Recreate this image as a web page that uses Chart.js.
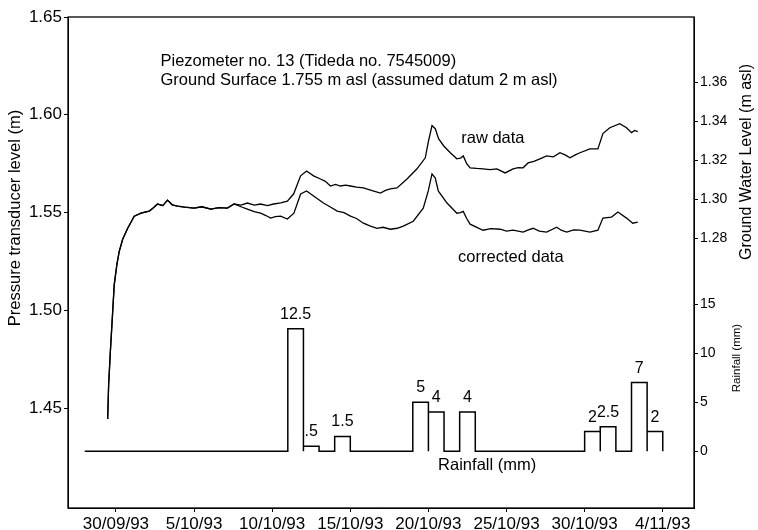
<!DOCTYPE html>
<html>
<head>
<meta charset="utf-8">
<script src="https://cdn.jsdelivr.net/npm/chart.js@4.4.0/dist/chart.umd.min.js"></script>
<style>
    html, body { margin: 0; padding: 0; background: #fff; }
    #wrap { width: 758px; height: 530px; }
</style>
</head>
<body>
<div id="wrap"><canvas id="piezoChart" width="758" height="530"></canvas></div>
<script>
// x values are days counted from 30/09/93
const tickDays = [0, 5, 10, 15, 20, 25, 30, 35];
const tickLabels = ['30/09/93', '5/10/93', '10/10/93', '15/10/93', '20/10/93', '25/10/93', '30/10/93', '4/11/93'];

const levelTicks = [1.45, 1.50, 1.55, 1.60, 1.65];
const gwlTicks = [1.28, 1.30, 1.32, 1.34, 1.36];
const rainTicks = [0, 5, 10, 15];

// pressure transducer level (m)
const rawDays = [-0.53, -0.47, -0.36, -0.21, -0.11, 0.06, 0.21, 0.43, 0.75, 1.17, 1.6, 2.13, 2.4, 2.66, 3.0, 3.3, 3.6, 3.94, 4.4, 5.0, 5.5, 6.07, 6.6, 7.13, 7.56,
    8.0, 8.41, 8.85, 9.26, 9.7, 10.09, 10.55, 10.97, 11.37, 11.82, 12.2, 12.65, 13.09, 13.4, 13.73, 14.05, 14.37, 14.7, 15.01, 15.4, 15.84, 16.4, 16.93, 17.25, 17.56, 17.99,
    18.63, 19.27, 19.8, 20.01, 20.23, 20.44, 20.65, 20.97, 21.4, 21.82, 22.05, 22.23, 22.45, 22.67, 23.1, 23.5, 23.95, 24.38, 24.91, 25.42, 25.75, 26.06, 26.38, 26.75,
    27.14, 27.57, 28.0, 28.42, 28.75, 29.06, 29.4, 29.7, 30.34, 30.85, 31.17, 31.61, 32.25, 32.68, 33.0, 33.2, 33.4];
const rawLevel = [1.4445, 1.4618, 1.4788, 1.4994, 1.5132, 1.5235, 1.5302, 1.5364, 1.542, 1.5482, 1.5497, 1.5508, 1.5525, 1.5544, 1.5536, 1.5564, 1.554, 1.5533, 1.5528, 1.5523, 1.553, 1.5518, 1.5526, 1.5523, 1.5544,
    1.5538, 1.5549, 1.5538, 1.5544, 1.5536, 1.5544, 1.555, 1.5559, 1.5595, 1.5688, 1.5713, 1.5688, 1.5672, 1.566, 1.5636, 1.5644, 1.5636, 1.564, 1.5636, 1.563, 1.5626, 1.5612, 1.56, 1.5614, 1.5621, 1.5626,
    1.5672, 1.5724, 1.578, 1.5868, 1.5945, 1.5929, 1.5878, 1.5842, 1.5806, 1.5775, 1.5778, 1.579, 1.575, 1.5729, 1.5726, 1.5724, 1.572, 1.5724, 1.5703, 1.5724, 1.573, 1.5729, 1.5754, 1.5762,
    1.5775, 1.579, 1.5785, 1.5806, 1.5795, 1.578, 1.5795, 1.5806, 1.5826, 1.5826, 1.5904, 1.5934, 1.5955, 1.5934, 1.5909, 1.592, 1.5914];

const corrDays = [-0.53, -0.47, -0.36, -0.21, -0.11, 0.06, 0.21, 0.43, 0.75, 1.17, 1.6, 2.13, 2.4, 2.66, 3.0, 3.3, 3.6, 3.94, 4.4, 5.0, 5.5, 6.07, 6.6, 7.13, 7.56,
    8.0, 8.41, 8.85, 9.26, 9.6, 9.9, 10.2, 10.54, 10.97, 11.39, 11.82, 12.2, 12.65, 13.28, 13.7, 14.16, 14.6, 15.01, 15.4, 15.84, 16.25, 16.71, 17.1, 17.56, 18.0, 18.39,
    19.03, 19.67, 19.99, 20.23, 20.44, 20.63, 21.19, 21.82, 22.05, 22.23, 22.45, 22.67, 23.1, 23.5, 24.0, 24.59, 25.0, 25.42, 26.06, 26.4, 26.7, 27.1, 27.57,
    28.21, 28.5, 28.85, 29.3, 29.7, 30.34, 30.85, 31.17, 31.72, 32.13, 32.68, 33.08, 33.4];
const corrLevel = [1.4445, 1.4618, 1.4788, 1.4994, 1.5132, 1.5235, 1.5302, 1.5364, 1.542, 1.5482, 1.5497, 1.5508, 1.5525, 1.5544, 1.5536, 1.5564, 1.554, 1.5533, 1.5528, 1.5523, 1.553, 1.5518, 1.5526, 1.5523, 1.5544,
    1.553, 1.5518, 1.5505, 1.5497, 1.5485, 1.5472, 1.548, 1.5482, 1.5467, 1.5497, 1.5595, 1.5611, 1.5585, 1.5549, 1.553, 1.5508, 1.55, 1.5482, 1.547, 1.5446, 1.5432, 1.542, 1.5425, 1.5415, 1.542, 1.5431,
    1.5456, 1.5523, 1.5611, 1.5698, 1.5677, 1.5611, 1.5549, 1.5497, 1.55, 1.5506, 1.547, 1.5441, 1.5425, 1.541, 1.5418, 1.5415, 1.5405, 1.541, 1.54, 1.5412, 1.542, 1.5405, 1.54,
    1.5425, 1.541, 1.54, 1.5412, 1.541, 1.54, 1.541, 1.5472, 1.5477, 1.5503, 1.5472, 1.5446, 1.5451];

// daily rainfall (mm), first value is 28/09/93
const rainStartDay = -2;
const rainfall = [0, 0, 0, 0, 0, 0, 0, 0, 0, 0, 0, 0, 0, 12.5, 0.5, 0, 1.5, 0, 0, 0, 0, 5, 4, 0, 4, 0, 0, 0, 0, 0, 0, 0, 2, 2.5, 0, 7, 2];

// ground water level = transducer level minus this offset
const gwlOffset = 0.2567;
const levelMin = 1.399, levelMax = 1.65;

const FONT = '"Liberation Sans", Arial, sans-serif';
Chart.defaults.font.family = FONT;
Chart.defaults.color = '#000';

const toPoints = (xs, ys) => xs.map((x, i) => ({ x: x, y: ys[i] }));

// outline of each day's rainfall box, drawn down to the zero line
const rainPoints = [];
rainfall.forEach((v, i) => {
    const d = rainStartDay + i;
    rainPoints.push({ x: d, y: 0 }, { x: d, y: v }, { x: d + 1, y: v }, { x: d + 1, y: 0 });
});

const fmtRain = v => (v < 1 ? String(v).replace(/^0/, '') : String(v));

const fixedTicks = list => scale => { scale.ticks = list.map(v => ({ value: v })); };

const gridStyle = { display: true, drawOnChartArea: false, color: '#000', tickLength: 4, lineWidth: 1 };

function rotatedText(ctx, text, x, y, font) {
    ctx.save();
    ctx.translate(x, y);
    ctx.rotate(-Math.PI / 2);
    ctx.font = font;
    ctx.textAlign = 'center';
    ctx.textBaseline = 'middle';
    ctx.fillText(text, 0, 0);
    ctx.restore();
}

const decorPlugin = {
    id: 'decor',
    afterDraw(chart) {
        const { ctx, chartArea: a, scales } = chart;
        const sx = scales.x, sy = scales.y, sr = scales.yRain;
        ctx.save();
        ctx.strokeStyle = '#000';
        ctx.lineWidth = 1.3;
        ctx.strokeRect(a.left, a.top, a.right - a.left, a.bottom - a.top);

        ctx.fillStyle = '#000';

        // rainfall axis labels share the right edge with the water level axis
        ctx.font = '14px ' + FONT;
        ctx.textAlign = 'left';
        ctx.textBaseline = 'middle';
        rainTicks.forEach(v => ctx.fillText(String(v), a.right + 6, sr.getPixelForValue(v)));

        ctx.font = '16px ' + FONT;
        ctx.textAlign = 'center';
        ctx.textBaseline = 'alphabetic';
        rainfall.forEach((v, i) => {
            if (!v) return;
            const d = rainStartDay + i;
            ctx.fillText(fmtRain(v), sx.getPixelForValue(d + 0.5), sr.getPixelForValue(v) - 10);
        });

        ctx.font = '16.5px ' + FONT;
        ctx.textBaseline = 'middle';
        ctx.textAlign = 'left';
        ctx.fillText('raw data', sx.getPixelForValue(22.1), sy.getPixelForValue(1.5878));
        ctx.fillText('corrected data', sx.getPixelForValue(21.9), sy.getPixelForValue(1.5271));
        ctx.textAlign = 'center';
        ctx.fillText('Rainfall (mm)', sx.getPixelForValue(23.76), sr.getPixelForValue(-1.5));

        ctx.font = '16.5px ' + FONT;
        ctx.textAlign = 'left';
        ctx.fillText('Piezometer no. 13 (Tideda no. 7545009)', sx.getPixelForValue(2.85), sy.getPixelForValue(1.6274));
        ctx.fillText('Ground Surface 1.755 m asl (assumed datum 2 m asl)', sx.getPixelForValue(2.85), sy.getPixelForValue(1.6176));

        rotatedText(ctx, 'Pressure transducer level (m)', 15, 218, '16.5px ' + FONT);
        rotatedText(ctx, 'Ground Water Level (m asl)', 747, 162, '16px ' + FONT);
        rotatedText(ctx, 'Rainfall (mm)', 737, 358, '11.5px ' + FONT);
        ctx.restore();
    }
};

const lineStyle = { borderColor: '#000', borderWidth: 1.3, pointRadius: 0, tension: 0, fill: false };

new Chart(document.getElementById('piezoChart').getContext('2d'), {
    type: 'line',
    data: {
        datasets: [
            Object.assign({ label: 'raw data', data: toPoints(rawDays, rawLevel), yAxisID: 'y' }, lineStyle),
            Object.assign({ label: 'corrected data', data: toPoints(corrDays, corrLevel), yAxisID: 'y' }, lineStyle),
            Object.assign({ label: 'Rainfall (mm)', data: rainPoints, yAxisID: 'yRain' }, lineStyle, { borderWidth: 1.5 })
        ]
    },
    options: {
        responsive: false,
        animation: false,
        devicePixelRatio: 1,
        layout: { padding: { top: 17, left: 0, right: 0, bottom: 0 } },
        plugins: { legend: { display: false }, tooltip: { enabled: false } },
        scales: {
            x: {
                type: 'linear',
                min: -3.07,
                max: 37,
                afterBuildTicks: fixedTicks(tickDays),
                afterFit: s => { s.height = 22; },
                grid: gridStyle,
                border: { color: '#000' },
                ticks: {
                    autoSkip: false, maxRotation: 0, padding: 2,
                    font: { size: 17 },
                    callback: v => tickLabels[tickDays.indexOf(v)]
                }
            },
            y: {
                position: 'left',
                min: levelMin,
                max: levelMax,
                afterBuildTicks: fixedTicks(levelTicks),
                afterFit: s => { s.width = 68; },
                grid: gridStyle,
                border: { color: '#000' },
                ticks: { padding: 2, font: { size: 17 }, callback: v => v.toFixed(2) }
            },
            yRain: {
                position: 'right',
                min: -5.8,
                max: 44.3,
                afterBuildTicks: fixedTicks(rainTicks),
                afterFit: s => { s.width = 0; },
                grid: gridStyle,
                border: { color: '#000' },
                ticks: { display: false }
            },
            yGwl: {
                position: 'right',
                min: levelMin - gwlOffset,
                max: levelMax - gwlOffset,
                afterBuildTicks: fixedTicks(gwlTicks),
                afterFit: s => { s.width = 64; },
                grid: gridStyle,
                border: { color: '#000' },
                ticks: { padding: 2, font: { size: 14 }, callback: v => v.toFixed(2) }
            }
        }
    },
    plugins: [decorPlugin]
});
</script>
</body>
</html>
